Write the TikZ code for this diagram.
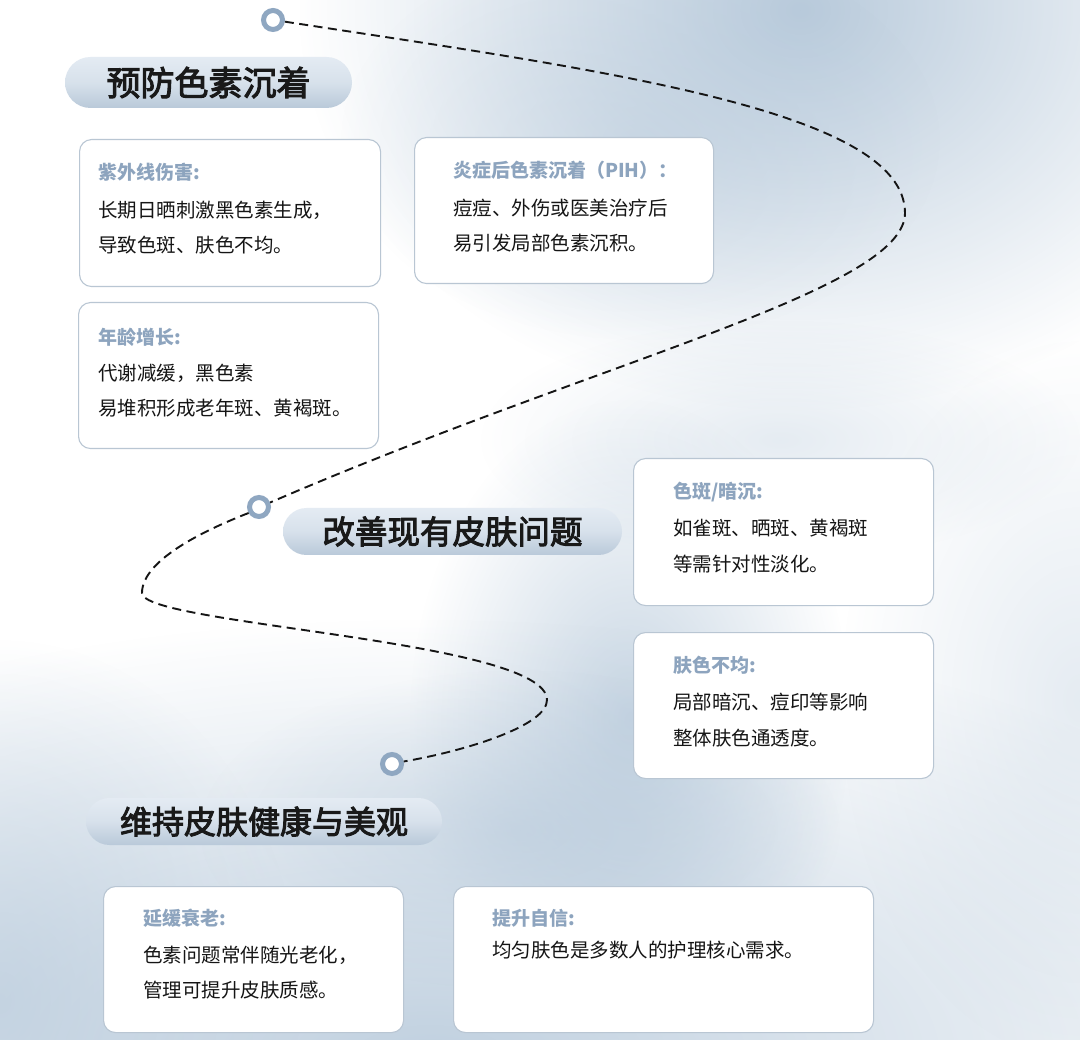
\documentclass[tikz,border=0pt]{standalone}
\usepackage{fontspec}
\newfontfamily\cjk{Noto Sans CJK SC}
\newfontfamily\cjkhead[FakeBold=3]{Noto Sans CJK SC}
\usetikzlibrary{shapes.misc,fadings}
\definecolor{ringc}{HTML}{8FA7C1}
\definecolor{titlec}{HTML}{8DA4BE}
\definecolor{bodyc}{HTML}{151515}
\definecolor{boxline}{HTML}{B9C6D3}
\definecolor{blobc}{HTML}{B5C8DA}
\definecolor{pilltop}{HTML}{E4EBF3}
\definecolor{pillmid}{HTML}{D7E1EB}
\definecolor{pillbot}{HTML}{B9C9D9}
\tikzfading[name=blobfade, inner color=transparent!0, outer color=transparent!100]
\begin{document}
\begin{tikzpicture}[x=1pt,y=-1pt,
  ring/.style={circle, draw=ringc, line width=5pt, fill=white, minimum size=19pt, inner sep=0pt},
  pill/.style={rounded rectangle, inner sep=0pt, top color=pilltop, bottom color=pillbot, middle color=pillmid, text=black!90},
  infobox/.style={rectangle, rounded corners=12pt, draw=boxline, line width=1.1pt, fill=white, anchor=north west, inner sep=0pt},
  titletxt/.style={anchor=west, inner sep=0pt, font=\cjk\bfseries\fontsize{19}{22}\selectfont, text=titlec},
  bodytxt/.style={anchor=west, inner sep=0pt, font=\cjk\fontsize{19.5}{22}\selectfont, text=bodyc},
  route/.style={dash pattern=on 9pt off 5.5pt, line width=1.9pt, draw=bodyc},
  blob/.style={fill=blobc, path fading=blobfade}]
% background
\fill[white] (0,0) rectangle (1080,1040);
\useasboundingbox (0,0) rectangle (1080,1040);
\begin{scope}
\clip (0,0) rectangle (1080,1040);
\fill[blob, fill opacity=0.95] (800,10) ellipse [x radius=500pt, y radius=400pt];
\fill[blob, fill opacity=0.45] (640,140) ellipse [x radius=300pt, y radius=200pt];
\fill[blob, fill opacity=0.35] (780,440) ellipse [x radius=300pt, y radius=120pt];
\fill[blob, fill opacity=0.75] (630,720) ellipse [x radius=220pt, y radius=320pt];
\fill[blob, fill opacity=0.85] (430,1060) ellipse [x radius=1000pt, y radius=440pt];
\fill[blob, fill opacity=0.6] (0,1000) ellipse [x radius=300pt, y radius=360pt];
\fill[blob, fill opacity=0.35] (1080,700) ellipse [x radius=240pt, y radius=360pt];
\fill[blob, fill opacity=0.5] (520,830) ellipse [x radius=320pt, y radius=160pt];
\end{scope}
% rings
\node[ring] (c1) at (273,20) {};
\node[ring] (c2) at (259,507) {};
\node[ring] (c3) at (392,764) {};
\coordinate (t1) at (905,213);
\coordinate (t2) at (142,593);
\coordinate (t3) at (547,700);
% dashed route
\draw[route] (c1.-8) .. controls (600,70) and (905,110) .. (t1)
  .. controls (905,290) and (600,360) .. (c2.22);
\draw[route] (c2.210) .. controls (205,530) and (142,560) .. (t2)
  .. controls (142,625) and (547,640) .. (t3)
  .. controls (547,725) and (470,750) .. (c3.12);
% headers
\node[pill, minimum width=287pt, minimum height=51pt, font=\cjkhead\fontsize{34}{36}\selectfont] (h1) at (208.5,82.5) {预防色素沉着};
\node[pill, minimum width=339pt, minimum height=47pt, font=\cjkhead\fontsize{32.5}{36}\selectfont] (h2) at (452.5,531.5) {改善现有皮肤问题};
\node[pill, minimum width=356pt, minimum height=47pt, font=\cjkhead\fontsize{32}{36}\selectfont] (h3) at (264,821.5) {维持皮肤健康与美观};
% boxes
\node[infobox, minimum width=301pt, minimum height=147pt] (b1) at (79,139) {};
\node[titletxt] (b1t) at ([xshift=19pt,yshift=-33pt]b1.north west) {紫外线伤害:};
\node[bodytxt] (b1a) at ([xshift=19pt,yshift=-71pt]b1.north west) {长期日晒刺激黑色素生成，};
\node[bodytxt] (b1b) at ([xshift=19pt,yshift=-106pt]b1.north west) {导致色斑、肤色不均。};

\node[infobox, minimum width=299pt, minimum height=146pt] (b2) at (414,137) {};
\node[titletxt] (b2t) at ([xshift=39pt,yshift=-33pt]b2.north west) {炎症后色素沉着（PIH）：};
\node[bodytxt] (b2a) at ([xshift=39pt,yshift=-71pt]b2.north west) {痘痘、外伤或医美治疗后};
\node[bodytxt] (b2b) at ([xshift=39pt,yshift=-106pt]b2.north west) {易引发局部色素沉积。};

\node[infobox, minimum width=300pt, minimum height=146pt] (b3) at (78,302) {};
\node[titletxt] (b3t) at ([xshift=20pt,yshift=-35pt]b3.north west) {年龄增长:};
\node[bodytxt] (b3a) at ([xshift=20pt,yshift=-71pt]b3.north west) {代谢减缓，黑色素};
\node[bodytxt] (b3b) at ([xshift=20pt,yshift=-106pt]b3.north west) {易堆积形成老年斑、黄褐斑。};

\node[infobox, minimum width=300pt, minimum height=147pt] (b4) at (633,458) {};
\node[titletxt] (b4t) at ([xshift=40pt,yshift=-34pt]b4.north west) {色斑/暗沉:};
\node[bodytxt] (b4a) at ([xshift=40pt,yshift=-70pt]b4.north west) {如雀斑、晒斑、黄褐斑};
\node[bodytxt] (b4b) at ([xshift=40pt,yshift=-106pt]b4.north west) {等需针对性淡化。};

\node[infobox, minimum width=300pt, minimum height=146pt] (b5) at (633,632) {};
\node[titletxt] (b5t) at ([xshift=40pt,yshift=-33pt]b5.north west) {肤色不均:};
\node[bodytxt] (b5a) at ([xshift=40pt,yshift=-70pt]b5.north west) {局部暗沉、痘印等影响};
\node[bodytxt] (b5b) at ([xshift=40pt,yshift=-106pt]b5.north west) {整体肤色通透度。};

\node[infobox, minimum width=300pt, minimum height=146pt] (b6) at (103,886) {};
\node[titletxt] (b6t) at ([xshift=40pt,yshift=-32pt]b6.north west) {延缓衰老:};
\node[bodytxt] (b6a) at ([xshift=40pt,yshift=-69pt]b6.north west) {色素问题常伴随光老化，};
\node[bodytxt] (b6b) at ([xshift=40pt,yshift=-104pt]b6.north west) {管理可提升皮肤质感。};

\node[infobox, minimum width=420pt, minimum height=146pt] (b7) at (453,886) {};
\node[titletxt] (b7t) at ([xshift=39pt,yshift=-32pt]b7.north west) {提升自信:};
\node[bodytxt] (b7a) at ([xshift=39pt,yshift=-64pt]b7.north west) {均匀肤色是多数人的护理核心需求。};
\end{tikzpicture}
\end{document}
